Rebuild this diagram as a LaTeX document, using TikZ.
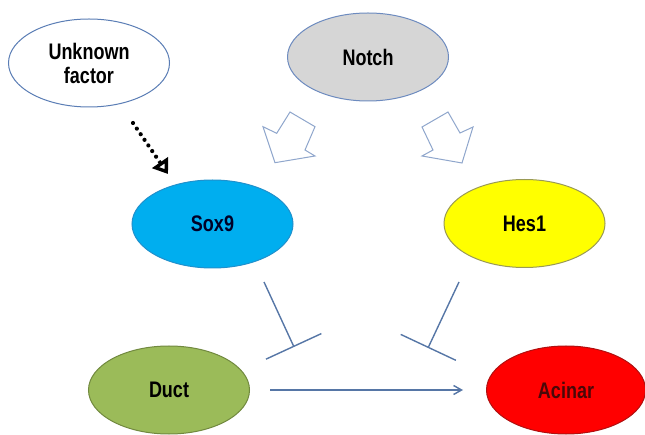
\documentclass[tikz,border=0pt]{standalone}
\usepackage{fontspec}
\setmainfont{Liberation Sans}[FakeStretch=0.8]
\usetikzlibrary{shapes.geometric,arrows.meta}
\definecolor{edgeblue}{HTML}{5A7DB5}
\definecolor{notchfill}{HTML}{D6D6D6}
\definecolor{notchedge}{HTML}{6D8BBF}
\definecolor{soxfill}{HTML}{00AEEF}
\definecolor{soxedge}{HTML}{2090CC}
\definecolor{hesfill}{HTML}{FFFF00}
\definecolor{hesedge}{HTML}{9A9A55}
\definecolor{ductfill}{HTML}{9BBB59}
\definecolor{ductedge}{HTML}{71893F}
\definecolor{acinfill}{HTML}{FF0000}
\definecolor{acinedge}{HTML}{B01010}
\definecolor{acintext}{HTML}{4A0808}
\definecolor{linkcol}{HTML}{5676A6}
\definecolor{blockcol}{HTML}{8FA6CC}
\tikzset{
  oval/.style={ellipse, draw, line width=1pt, inner sep=0pt,
    minimum width=161pt, minimum height=88pt, align=center,
    font=\fontsize{22.5}{24}\selectfont\bfseries},
  inhib/.style={draw=linkcol, line width=1.4pt, -{Bar[width=61pt,line width=1.4pt]}},
  activ/.style={draw=linkcol, line width=1.4pt, -{Straight Barb[length=8pt,width=9pt,line width=1.4pt]}},
  dotarrow/.style={draw=black, line width=4.2pt, line cap=round, dash pattern=on 0pt off 6.8pt},
  dothead/.style={draw=black, line width=3.4pt, line join=miter, -{Triangle[open,length=14pt,width=19pt,line width=3.4pt]}},
  blockarrow/.style={draw=blockcol, line width=1pt, fill=white, line join=miter}
}
\begin{document}
\begin{tikzpicture}[x=1pt,y=-1pt]
\useasboundingbox (0,0) rectangle (645,435);
\node[oval, draw=edgeblue, fill=white] (unk) at (89,63) {Unknown\\factor};
\node[oval, draw=notchedge, fill=notchfill] (notch) at (368,57) {Notch};
\node[oval, draw=soxedge, fill=soxfill, text=black!85!blue] (sox) at (212.5,224) {Sox9};
\node[oval, draw=hesedge, fill=hesfill] (hes) at (524.5,223.5) {Hes1};
\node[oval, draw=ductedge, fill=ductfill] (duct) at (169,390) {Duct};
\node[oval, draw=acinedge, fill=acinfill, text=acintext, minimum width=159pt] (acin) at (566,390) {Acinar};
% dotted arrow
\coordinate (d1) at (133,123);
\coordinate (d2) at (168,174);
\coordinate (d3) at (159,161);
\draw[dotarrow] (d1) -- (d3);
\draw[dothead] (d3) -- (d2);
% block arrows from Notch
\draw[blockarrow] (290,112) -- (315,126.7) -- (305,150) -- (315,156) -- (275,162.7) -- (263,126.7) -- (276.7,133.3) -- cycle;
\draw[blockarrow] (448,112) -- (422,127) -- (433,150) -- (422,156) -- (462,163) -- (473,127) -- (460,133) -- cycle;
% inhibitions
\coordinate (s1) at (264,282);
\coordinate (s2) at (294,347);
\draw[inhib] (s1) -- (s2);
\coordinate (h1) at (459,282);
\coordinate (h2) at (428,348);
\draw[inhib] (h1) -- (h2);
% duct -> acinar
\coordinate (a1) at (270,390);
\coordinate (a2) at (463,390);
\draw[activ] (a1) -- (a2);
\end{tikzpicture}
\end{document}
